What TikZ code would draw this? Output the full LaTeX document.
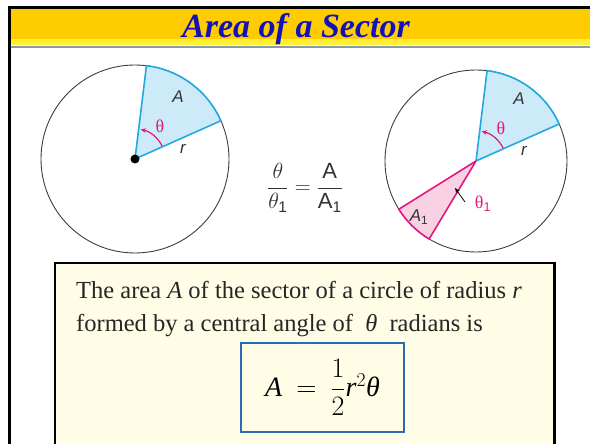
\documentclass[tikz,border=0pt]{standalone}
\usepackage{fix-cm}
\usepackage{amsmath}
\usepackage{fontspec}
\setmainfont{Liberation Serif}
\setsansfont{Liberation Sans}
\usetikzlibrary{arrows.meta}
\definecolor{bandcol}{HTML}{FFCC00}
\definecolor{bandlite}{HTML}{FFEE33}
\definecolor{bandline}{HTML}{8899A8}
\definecolor{titlecol}{HTML}{1212B8}
\definecolor{rimcol}{HTML}{3C3C3C}
\definecolor{bluefill}{HTML}{CCEAF8}
\definecolor{blueedge}{HTML}{23A8E2}
\definecolor{pinkfill}{HTML}{F8D2E2}
\definecolor{pinkedge}{HTML}{E3177C}
\definecolor{labelcol}{HTML}{333333}
\definecolor{boxfill}{HTML}{FFFDE6}
\definecolor{boxblue}{HTML}{2B6CB5}

\begin{document}
\begin{tikzpicture}[
  x=1pt, y=1pt, >=Stealth,
  rim/.style={draw=rimcol, line width=0.9pt},
  bluesector/.style={fill=bluefill, draw=blueedge, line width=1.6pt, line join=round},
  pinksector/.style={fill=pinkfill, draw=pinkedge, line width=1.6pt, line join=round},
  anglearc/.style={draw=pinkedge, line width=1.2pt, -{Stealth[length=5pt,width=4.5pt]}},
  pointer/.style={draw=black, line width=0.8pt, -{Stealth[length=5pt,width=4pt]}},
  seclabel/.style={font=\fontsize{17}{17}\selectfont\sffamily\itshape, text=labelcol, inner sep=0pt},
  anglabel/.style={font=\fontsize{18}{18}\selectfont, text=pinkedge, inner sep=0pt},
  titletext/.style={font=\fontsize{34}{34}\selectfont\bfseries\itshape, text=titlecol},
  framebox/.style={draw=black, line width=2.4pt},
  bodytext/.style={font=\fontsize{24.5}{33}\selectfont, text=black!85, inner sep=0pt, anchor=base west},
  formulabox/.style={draw=boxblue, line width=2pt, minimum width=163pt, minimum height=89pt,
                     font=\fontsize{28}{32}\selectfont},
  fraclabel/.style={font=\fontsize{22}{24}\selectfont, text=labelcol},
]
\useasboundingbox (0,0) rectangle (590,444);

% header band
\fill[bandcol] (9.5,435) rectangle (590,399);
\fill[bandlite] (9.5,405) rectangle (590,399);
\draw[bandline, line width=2pt] (9.5,397) -- (590,397);
\draw[line width=2.4pt] (9.5,-2) -- (9.5,436.5) -- (591,436.5);
\node[titletext] (title) at (296,415) {Area of a Sector};

% two circles with sector A
\foreach \name/\cx/\cy/\rad in {L/135/285/94, R/476/283/91}{
  \coordinate (O\name) at (\cx,\cy);
  \draw[rim] (O\name) circle[radius=\rad];
  \path[bluesector] (O\name) -- ++(24:\rad) arc[start angle=24, end angle=83, radius=\rad] -- cycle;
  \draw[anglearc] ([shift={(25:30)}]O\name) arc[start angle=25, end angle=79, radius=30];
  \node[seclabel] (A\name) at ([shift={(43,62)}]O\name) {A};
  \node[seclabel] (r\name) at ([shift={(48,10)}]O\name) {r};
  \node[anglabel] (t\name) at ([shift={(25,33)}]O\name) {θ};
}
\fill (OL) circle[radius=4.5];

% second sector A1
\path[pinksector] (OR) -- ++(212:91) arc[start angle=212, end angle=239, radius=91] -- cycle;
\node[seclabel] (A1) at (419,227) {A$_{\textsf{\upshape 1}}$};
\node[anglabel] (t1) at (483,240) {θ$_{\textsf{1}}$};
\coordinate (tail1) at (465,242);
\coordinate (tip1) at (455,256);
\draw[pointer] (tail1) -- (tip1);

\node[fraclabel] (ratio) at (305,256) {$\dfrac{\theta}{\theta_{\textsf{1}}} = \dfrac{\textsf{A}}{\textsf{A}_{\textsf{1}}}$};

% result box
\draw[framebox, fill=boxfill] (54.7,-3) rectangle (554.5,181);
\node[bodytext] (line1) at (76,145)
  {The area \textit{A} of the sector of a circle of radius \textit{r}};
\node[bodytext] (line2) at (76,112)
  {formed by a central angle of \ \textit{θ}\ \ radians is};
\node[formulabox] (formula) at (322.5,56.5) {$\textit{A} \:=\: \dfrac{1}{2}\textit{r}^{2}\textit{θ}$};

\end{tikzpicture}
\end{document}
